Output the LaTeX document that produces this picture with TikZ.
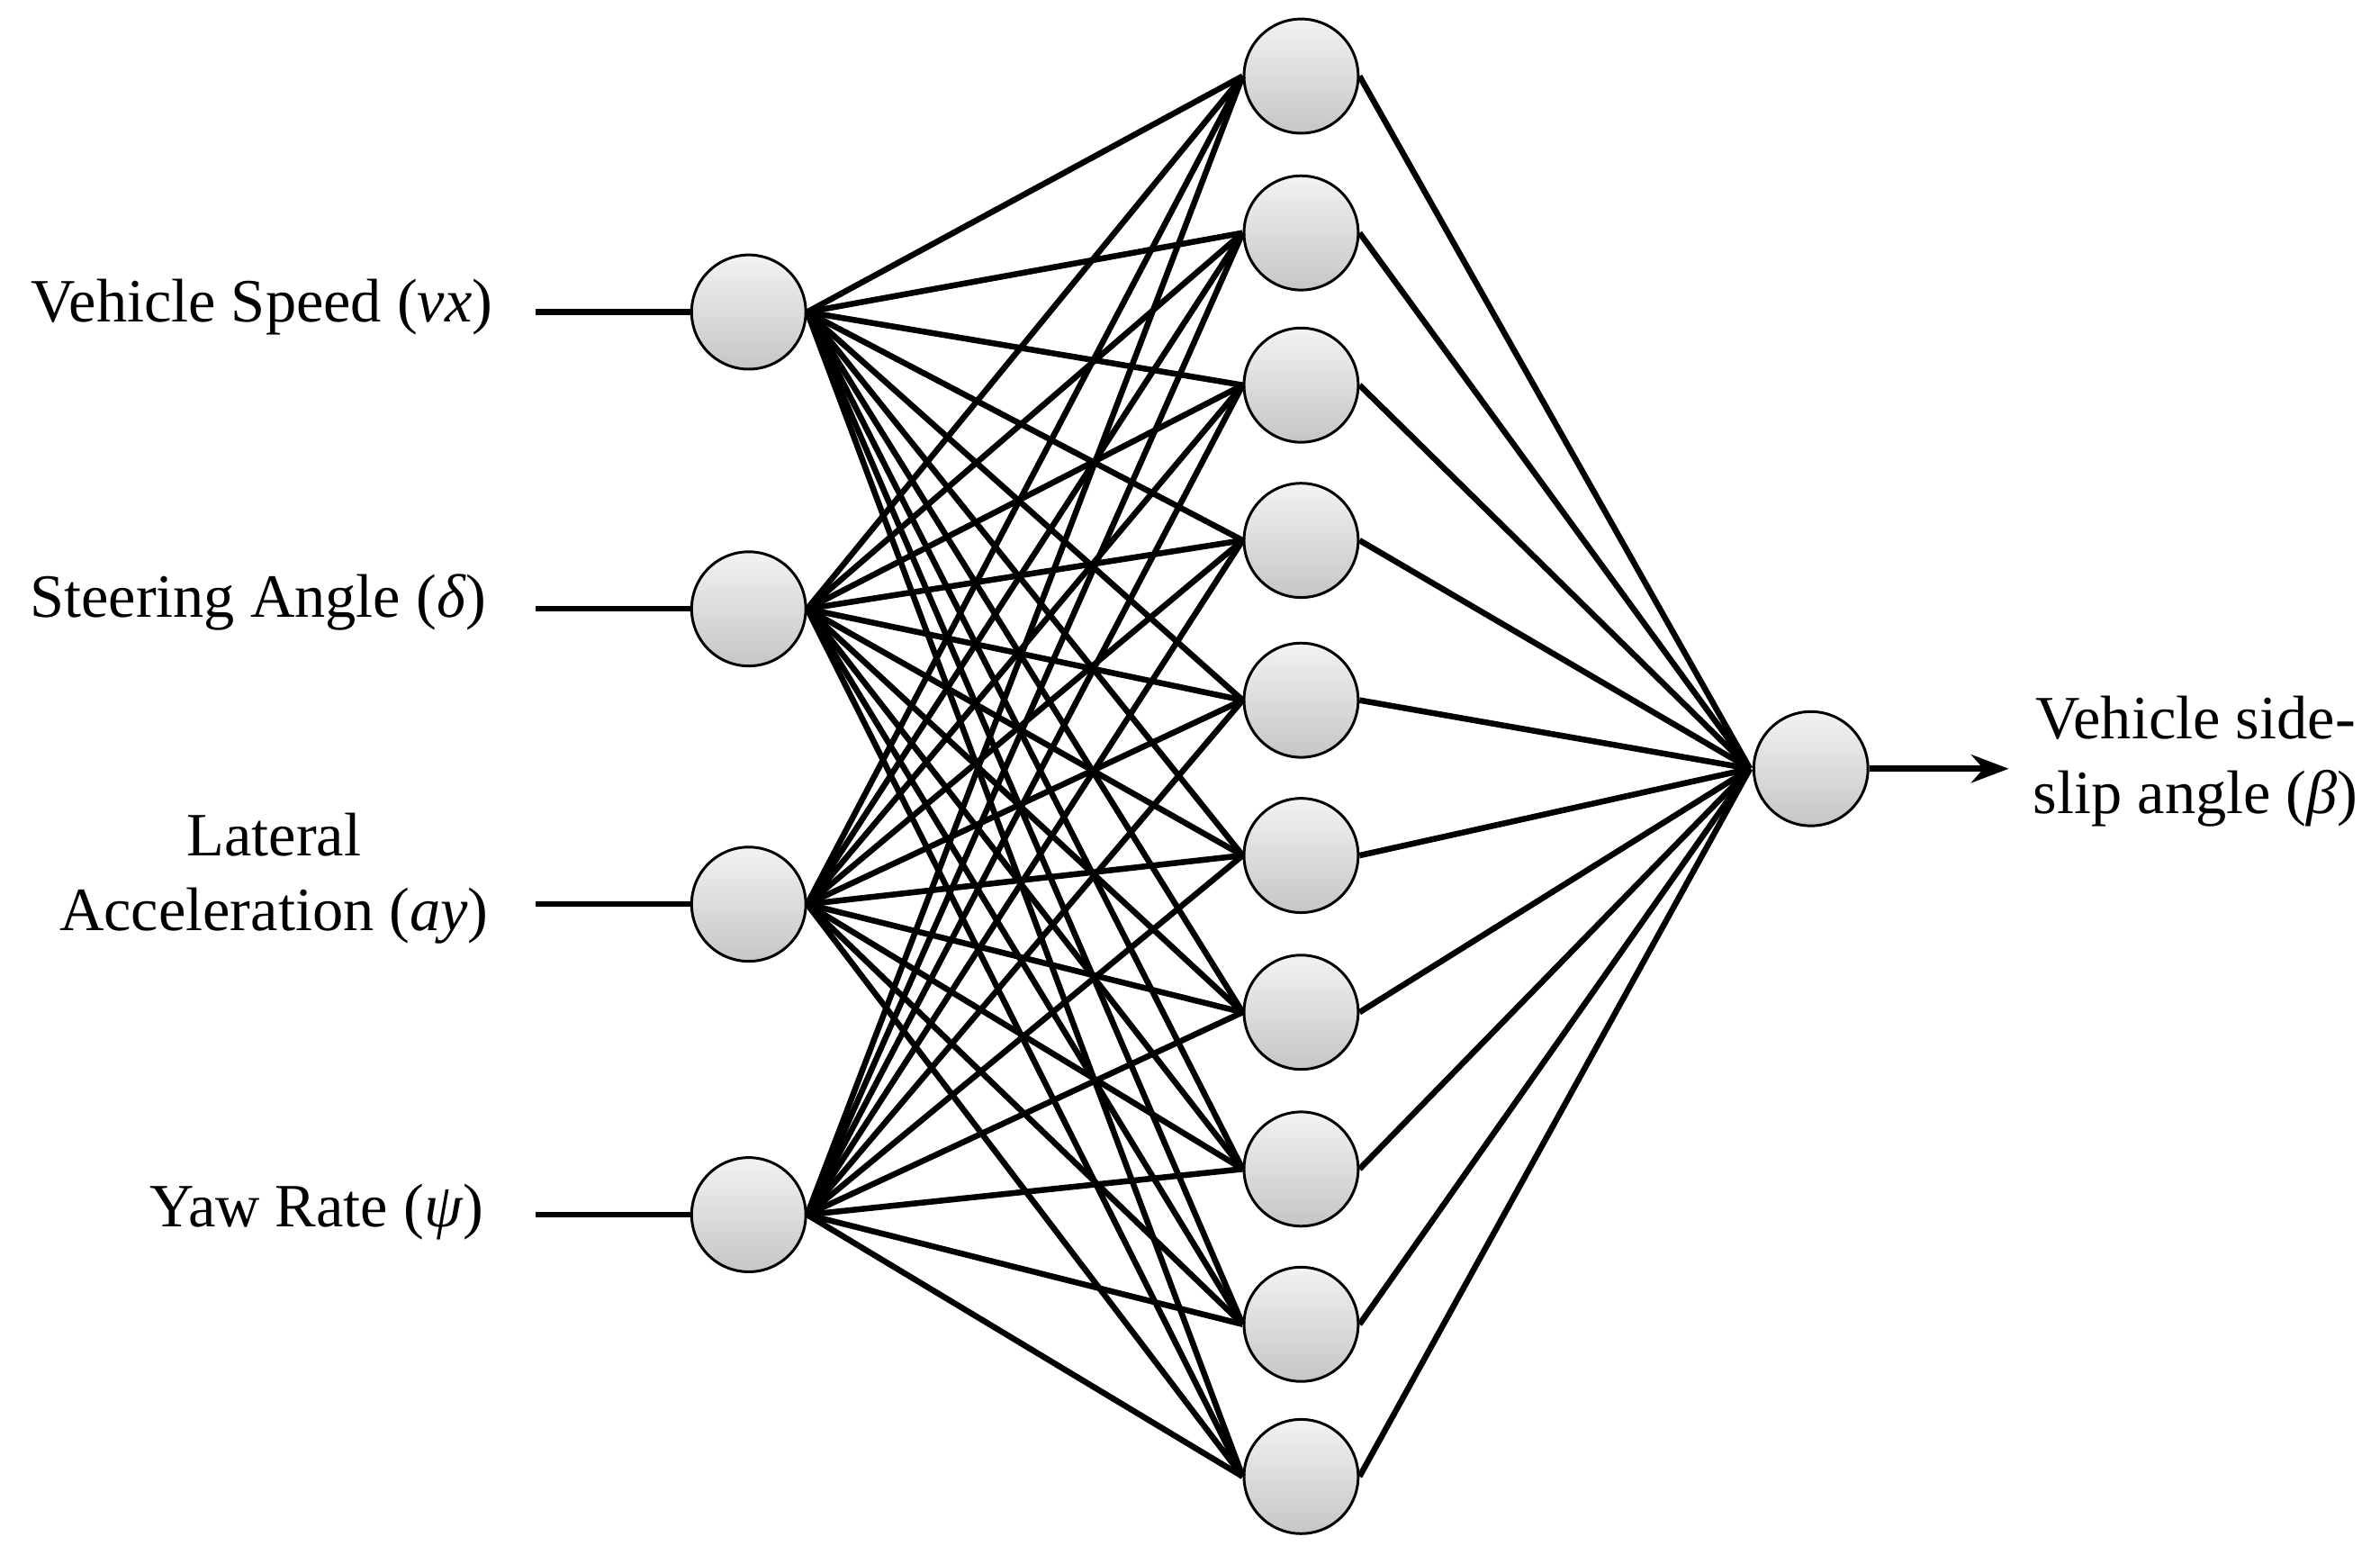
\documentclass[tikz,border=0pt]{standalone}
\usepackage{fontspec}
\setmainfont{Liberation Serif}
\usetikzlibrary{arrows.meta}
\begin{document}
\begin{tikzpicture}[x=0.01cm,y=-0.01cm,
  neuron/.style={circle,draw=black,line width=0.5pt,minimum size=0.75cm,inner sep=0pt,top color=gray!10,bottom color=gray!45},
  conn/.style={line width=1.1pt},
  lbl/.style={font=\fontsize{11.5}{14}\selectfont,align=center,inner sep=1pt}]
\useasboundingbox (0,0) rectangle (1564,1021);
\foreach \i/\y in {1/205,2/400,3/594,4/798}{\node[neuron] (i\i) at (492,\y) {};}
\foreach \j/\y in {1/50,2/153,3/253,4/355,5/460,6/562,7/665,8/768,9/870,10/970}{\node[neuron] (h\j) at (855,\y) {};}
\node[neuron] (o) at (1190,505) {};
\coordinate (oin) at (1150,505);
\foreach \i in {1,...,4}{\foreach \j in {1,...,10}{\draw[conn] (i\i.east) -- (h\j.west);}}
\foreach \j in {1,...,10}{\draw[conn] (h\j.east) -- (oin);}
\foreach \i/\y in {1/205,2/400,3/594,4/798}{\coordinate (s\i) at (352,\y); \draw[conn] (s\i) -- (i\i.west);}
\node[lbl,anchor=east] (l1) at (328,202) {Vehicle Speed (\textit{vx})};
\node[lbl,anchor=east] (l2) at (324,396) {Steering Angle (\textit{δ})};
\node[lbl] (l3) at (180,577) {Lateral\\Acceleration (\textit{ay})};
\node[lbl,anchor=east] (l4) at (322,796) {Yaw Rate (\textit{ψ})};
\coordinate (oe) at (1320,505);
\draw[conn,-{Stealth[length=7pt]}] (o.east) -- (oe);
\node[lbl,anchor=west] (ol) at (1332,500) {Vehicle side-\\slip angle (\textit{β})};
\end{tikzpicture}
\end{document}
